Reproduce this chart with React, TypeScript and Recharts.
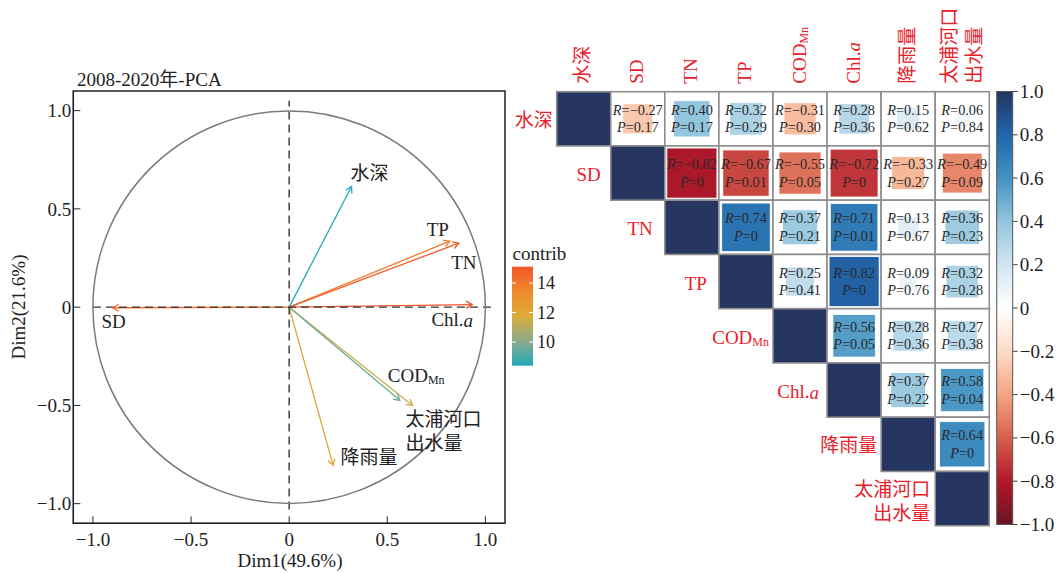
import React from "react";
import {
  ComposedChart,
  Line,
  XAxis,
  YAxis,
  ReferenceLine,
  ReferenceDot,
  ReferenceArea,
  ScatterChart,
  Scatter,
} from "recharts";

const FONT = "'Liberation Serif', 'Times New Roman', 'Noto Sans CJK SC', serif";
const RED = "#e8202a";
const INK = "#222";

// PCA loadings (Dim1, Dim2) and contributions
const pcaVars = ["水深", "SD", "TN", "TP", "COD", "Chl.a", "降雨量", "太浦河口出水量"];
const dim1 = [0.318, -0.9, 0.865, 0.819, 0.564, 0.933, 0.224, 0.629];
const dim2 = [0.614, -0.003, 0.326, 0.336, -0.474, 0.013, -0.805, -0.5];
const contrib = [8.4, 14.3, 14.9, 13.8, 9.6, 15.1, 12.3, 11.4];
const contribTicks = [14, 12, 10];
const axisTicks = [-1, -0.5, 0, 0.5, 1];

// correlation matrix, upper triangle row by row
const corrVars = ["水深", "SD", "TN", "TP", "COD", "Chl.a", "降雨量", "太浦河口出水量"];
const rUpper = [
  [-0.27, 0.4, 0.32, -0.31, 0.28, 0.15, 0.06],
  [-0.82, -0.67, -0.55, -0.72, -0.33, -0.49],
  [0.74, 0.37, 0.71, 0.13, 0.36],
  [0.25, 0.82, 0.09, 0.32],
  [0.56, 0.28, 0.27],
  [0.37, 0.58],
  [0.64],
  [],
];
const pUpper = [
  [0.17, 0.17, 0.29, 0.3, 0.36, 0.62, 0.84],
  [0, 0.01, 0.05, 0, 0.27, 0.09],
  [0, 0.21, 0.01, 0.67, 0.23],
  [0.41, 0, 0.76, 0.28],
  [0.05, 0.36, 0.38],
  [0.22, 0.04],
  [0],
  [],
];
const colorbarTicks = [1, 0.8, 0.6, 0.4, 0.2, 0, -0.2, -0.4, -0.6, -0.8, -1];

// label nudges (px) for the arrow labels
const labelNudge = [
  { dx: 18, dy: -13, anchor: "middle" },
  { dx: 1, dy: 14, anchor: "middle" },
  { dx: 5, dy: 19, anchor: "middle" },
  { dx: -12, dy: -12, anchor: "middle" },
  { dx: -12, dy: -25, anchor: "start" },
  { dx: -20, dy: 15, anchor: "middle" },
  { dx: 36, dy: -8, anchor: "middle" },
  { dx: -7, dy: 14, anchor: "start" },
];
const rowLabelGap = [4, 10, 12, 12, 4, 8, 4, 5];

// colour scales
const contribStops = ["#22aab5", "#8ba98c", "#dcae3a", "#ef8a2c", "#f2552a"];
const rdbuStops = [
  "#6a1424", "#b2182b", "#d6604d", "#f4a582", "#fddbc7", "#ffffff",
  "#d1e5f0", "#92c5de", "#4393c3", "#2166ac", "#233560",
];
const DIAG = "#263660";
const GRID = "#8e8e8e";

function hexToRgb(h: string) {
  const n = parseInt(h.slice(1), 16);
  return [(n >> 16) & 255, (n >> 8) & 255, n & 255];
}
function mix(stops: string[], t: number) {
  const tt = Math.max(0, Math.min(1, t)) * (stops.length - 1);
  const i = Math.min(stops.length - 2, Math.floor(tt));
  const f = tt - i;
  const a = hexToRgb(stops[i]);
  const b = hexToRgb(stops[i + 1]);
  const c = a.map((v, k) => Math.round(v + (b[k] - v) * f));
  return `rgb(${c[0]},${c[1]},${c[2]})`;
}
const cMin = Math.min(...contrib);
const cMax = Math.max(...contrib);
const contribColor = (v: number) => mix(contribStops, (v - cMin) / (cMax - cMin));
const corrColor = (r: number) => mix(rdbuStops, (r + 1) / 2);

const fmtTick = (v: number) => (v === 0 ? "0" : v.toFixed(1).replace("-", "\u2212"));
const fmtR = (v: number) => v.toFixed(2).replace("-", "\u2212");
const fmtP = (v: number) => (v === 0 ? "0" : v.toFixed(2));

// PCA layout
const PCA_W = 520;
const PCA_H = 573;
const PCA_M = { top: 91, right: 15, bottom: 0, left: 0 };
const Y_AXIS_W = 73.3;
const X_AXIS_H = 49.7;
const PLOT_W = PCA_W - PCA_M.left - PCA_M.right - Y_AXIS_W;
const UNIT = PLOT_W / 2.2;

function VarLabel({ i, x, y }: { i: number; x: number; y: number }) {
  const n = labelNudge[i];
  const name = pcaVars[i];
  const common = { fontFamily: FONT, fontSize: 19, fill: INK, dominantBaseline: "central" as const };
  if (name === "太浦河口出水量") {
    return (
      <g>
        <text x={x + n.dx} y={y + n.dy} textAnchor="start" {...common}>太浦河口</text>
        <text x={x + n.dx} y={y + n.dy + 24} textAnchor="start" {...common}>出水量</text>
      </g>
    );
  }
  if (name === "COD") {
    return (
      <text x={x + n.dx} y={y + n.dy} textAnchor="start" {...common}>
        COD<tspan dy={5} fontSize={12}>Mn</tspan>
      </text>
    );
  }
  if (name === "Chl.a") {
    return (
      <text x={x + n.dx} y={y + n.dy} textAnchor="middle" {...common}>
        Chl.<tspan fontStyle="italic">a</tspan>
      </text>
    );
  }
  return (
    <text x={x + n.dx} y={y + n.dy} textAnchor={n.anchor as any} {...common}>
      {name}
    </text>
  );
}

function ArrowTip(props: any) {
  const { cx, cy, index, idx } = props;
  if (index !== 1 || cx == null) return <g key={`d-${idx}-${index}`} />;
  const color = contribColor(contrib[idx]);
  const ang = Math.atan2(-dim2[idx], dim1[idx]);
  const L = 7;
  const a = Math.PI / 6;
  const p1 = [cx - L * Math.cos(ang - a), cy - L * Math.sin(ang - a)];
  const p2 = [cx - L * Math.cos(ang + a), cy - L * Math.sin(ang + a)];
  return (
    <g key={`d-${idx}-${index}`}>
      <polyline
        points={`${p1[0]},${p1[1]} ${cx},${cy} ${p2[0]},${p2[1]}`}
        fill="none"
        stroke={color}
        strokeWidth={1.3}
      />
      <VarLabel i={idx} x={cx} y={cy} />
    </g>
  );
}

function PcaChart() {
  const order = [7, 4, 6, 0, 3, 2, 1, 5];
  return (
    <ComposedChart width={PCA_W} height={PCA_H} margin={PCA_M}>
      <XAxis
        type="number"
        dataKey="x"
        domain={[-1.1, 1.1]}
        ticks={axisTicks}
        allowDataOverflow
        height={X_AXIS_H}
        tickFormatter={fmtTick}
        tickSize={-7}
        tickMargin={16}
        interval={0}
        stroke={INK}
        tick={{ fill: INK, fontSize: 19, fontFamily: FONT }}
      />
      <YAxis
        type="number"
        dataKey="y"
        domain={[-1.1, 1.1]}
        ticks={axisTicks}
        allowDataOverflow
        width={Y_AXIS_W}
        tickFormatter={fmtTick}
        tickSize={-7}
        tickMargin={9}
        interval={0}
        stroke={INK}
        tick={{ fill: INK, fontSize: 19, fontFamily: FONT }}
      />
      <ReferenceArea x1={-1.1} x2={1.1} y1={-1.1} y2={1.1} fill="none" stroke={INK} strokeWidth={1.5} />
      <ReferenceDot x={0} y={0} r={UNIT} fill="none" stroke="#7a7a7a" strokeWidth={1.5} />
      {order.map((i) => (
        <Line
          key={pcaVars[i]}
          data={[
            { x: 0, y: 0 },
            { x: dim1[i], y: dim2[i] },
          ]}
          dataKey="y"
          type="linear"
          stroke={contribColor(contrib[i])}
          strokeWidth={1.3}
          isAnimationActive={false}
          activeDot={false}
          dot={(p: any) => <ArrowTip key={`tip-${i}-${p.index}`} {...p} idx={i} />}
        />
      ))}
      <ReferenceLine
        segment={[{ x: -1, y: 0 }, { x: 1.04, y: 0 }]}
        stroke="#333"
        strokeWidth={1.4}
        strokeDasharray="8 5"
      />
      <ReferenceLine
        segment={[{ x: 0, y: -1.03 }, { x: 0, y: 1.05 }]}
        stroke="#333"
        strokeWidth={1.4}
        strokeDasharray="8 5"
      />
    </ComposedChart>
  );
}

// correlation layout
const COR_LEFT = 500;
const COR_W = 562;
const COR_H = 573;
const COR_M = { top: 1.7, right: 72.7, bottom: 47.3, left: 56.7 };
const COL_AXIS_H = 90;
const CELL_W = (COR_W - COR_M.left - COR_M.right) / 8;
const CELL_H = (COR_H - COR_M.top - COR_M.bottom - COL_AXIS_H) / 8;

const cells: any[] = [];
corrVars.forEach((_, i) => {
  cells.push({ x: i + 0.5, y: i + 0.5, i, diag: true });
  rUpper[i].forEach((r, k) => {
    cells.push({ x: i + k + 1.5, y: i + 0.5, i, r, p: pUpper[i][k], diag: false });
  });
});

function VarName({ name, x, y, anchor }: { name: string; x: number; y: number; anchor: any }) {
  if (name === "COD")
    return (
      <text x={x} y={y} textAnchor={anchor} dominantBaseline="central" fontFamily={FONT} fontSize={19} fill={RED}>
        COD<tspan dy={5} fontSize={12}>Mn</tspan>
      </text>
    );
  if (name === "Chl.a")
    return (
      <text x={x} y={y} textAnchor={anchor} dominantBaseline="central" fontFamily={FONT} fontSize={19} fill={RED}>
        Chl.<tspan fontStyle="italic">a</tspan>
      </text>
    );
  return (
    <text x={x} y={y} textAnchor={anchor} dominantBaseline="central" fontFamily={FONT} fontSize={19} fill={RED}>
      {name}
    </text>
  );
}

function CellShape(props: any) {
  const { cx, cy, payload } = props;
  const w = CELL_W;
  const h = CELL_H;
  const i = payload.i;
  if (payload.diag) {
    const name = corrVars[i];
    const lx = cx - w / 2 - rowLabelGap[i];
    return (
      <g>
        <rect x={cx - w / 2} y={cy - h / 2} width={w} height={h} fill={DIAG} stroke={GRID} strokeWidth={1.6} />
        {name === "太浦河口出水量" ? (
          <g>
            <VarName name="太浦河口" x={lx} y={cy - 9} anchor="end" />
            <VarName name="出水量" x={lx} y={cy + 14.5} anchor="end" />
          </g>
        ) : (
          <VarName name={name} x={lx} y={cy + 1.5} anchor="end" />
        )}
      </g>
    );
  }
  const r = payload.r;
  const s = Math.min(w - 4, w * Math.sqrt(Math.abs(r)) + 2);
  return (
    <g>
      <rect x={cx - w / 2} y={cy - h / 2} width={w} height={h} fill="#fff" stroke={GRID} strokeWidth={1.6} />
      <rect x={cx - s / 2} y={cy - s / 2} width={s} height={s} fill={corrColor(r)} stroke="#fff" strokeWidth={0.8} />
      <text x={cx} y={cy - 9} textAnchor="middle" dominantBaseline="central" fontFamily={FONT} fontSize={14.3} fill="#2a2a2a">
        <tspan fontStyle="italic">R</tspan>={fmtR(r)}
      </text>
      <text x={cx} y={cy + 8.5} textAnchor="middle" dominantBaseline="central" fontFamily={FONT} fontSize={14.3} fill="#2a2a2a">
        <tspan fontStyle="italic">P</tspan>={fmtP(payload.p)}
      </text>
    </g>
  );
}

function ColTick(props: any) {
  const { x, y, payload } = props;
  const name = corrVars[Math.round(payload.value - 0.5)];
  const rot = (xx: number) => `rotate(-90 ${xx} ${y})`;
  if (name === "太浦河口出水量") {
    return (
      <g>
        <g transform={rot(x - 12.5)}>
          <VarName name="太浦河口" x={x - 12.5} y={y} anchor="start" />
        </g>
        <g transform={rot(x + 12.5)}>
          <VarName name="出水量" x={x + 12.5} y={y} anchor="start" />
        </g>
      </g>
    );
  }
  return (
    <g transform={rot(x - 1)}>
      <VarName name={name} x={x - 1} y={y} anchor="start" />
    </g>
  );
}

function CorrChart() {
  return (
    <ScatterChart width={COR_W} height={COR_H} margin={COR_M}>
      <XAxis
        type="number"
        dataKey="x"
        domain={[0, 8]}
        ticks={[0.5, 1.5, 2.5, 3.5, 4.5, 5.5, 6.5, 7.5]}
        interval={0}
        orientation="top"
        height={COL_AXIS_H}
        axisLine={false}
        tickLine={false}
        tickSize={0}
        tickMargin={8}
        tick={<ColTick />}
      />
      <YAxis type="number" dataKey="y" domain={[0, 8]} reversed hide />
      <Scatter data={cells} shape={<CellShape />} isAnimationActive={false} />
    </ScatterChart>
  );
}

function Overlay() {
  const barTop = 91.5;
  const barBot = 524.5;
  const cbX = 996.7;
  const cTop = 266.7;
  const cH = 99;
  const cY = (v: number) => cTop + ((cMax - v) / (cMax - cMin)) * cH;
  return (
    <svg width={1062} height={573} style={{ position: "absolute", left: 0, top: 0, pointerEvents: "none" }}>
      <defs>
        <linearGradient id="rdbu" x1="0" y1="1" x2="0" y2="0">
          {rdbuStops.map((c, k) => (
            <stop key={k} offset={k / (rdbuStops.length - 1)} stopColor={c} />
          ))}
        </linearGradient>
        <linearGradient id="contrib" x1="0" y1="1" x2="0" y2="0">
          {contribStops.map((c, k) => (
            <stop key={k} offset={k / (contribStops.length - 1)} stopColor={c} />
          ))}
        </linearGradient>
      </defs>
      <text x={77} y={79} fontFamily={FONT} fontSize={19} fill={INK} dominantBaseline="central">
        2008-2020年-PCA
      </text>
      <text x={290} y={560} fontFamily={FONT} fontSize={19} fill={INK} textAnchor="middle" dominantBaseline="central">
        Dim1(49.6%)
      </text>
      <text
        x={18.5}
        y={307}
        transform="rotate(-90 18.5 307)"
        fontFamily={FONT}
        fontSize={19}
        fill={INK}
        textAnchor="middle"
        dominantBaseline="central"
      >
        Dim2(21.6%)
      </text>

      <text x={512.5} y={253} fontFamily={FONT} fontSize={19} fill={INK} dominantBaseline="central">
        contrib
      </text>
      <rect x={512} y={cTop} width={21} height={cH} fill="url(#contrib)" />
      {contribTicks.map((t) => (
        <g key={t}>
          <line x1={512} x2={516} y1={cY(t)} y2={cY(t)} stroke="#fff" strokeWidth={1} />
          <line x1={529} x2={533} y1={cY(t)} y2={cY(t)} stroke="#fff" strokeWidth={1} />
          <text x={537} y={cY(t)} fontFamily={FONT} fontSize={18} fill={INK} dominantBaseline="central">
            {t}
          </text>
        </g>
      ))}

      <rect x={cbX} y={barTop} width={16} height={barBot - barTop} fill="url(#rdbu)" stroke="#555" strokeWidth={1} />
      {colorbarTicks.map((t) => {
        const y = barTop + ((1 - t) / 2) * (barBot - barTop);
        return (
          <g key={t}>
            <line x1={cbX + 16} x2={cbX + 21} y1={y} y2={y} stroke="#444" strokeWidth={1} />
            <text x={cbX + 23} y={y} fontFamily={FONT} fontSize={19} fill={INK} dominantBaseline="central">
              {fmtTick(t)}
            </text>
          </g>
        );
      })}
    </svg>
  );
}

export default function App() {
  return (
    <div style={{ position: "absolute", left: 0, top: 0, width: 1062, height: 573, background: "#fff", fontFamily: FONT }}>
      <div style={{ position: "absolute", left: 0, top: 0 }}>
        <PcaChart />
      </div>
      <div style={{ position: "absolute", left: COR_LEFT, top: 0 }}>
        <CorrChart />
      </div>
      <Overlay />
    </div>
  );
}
